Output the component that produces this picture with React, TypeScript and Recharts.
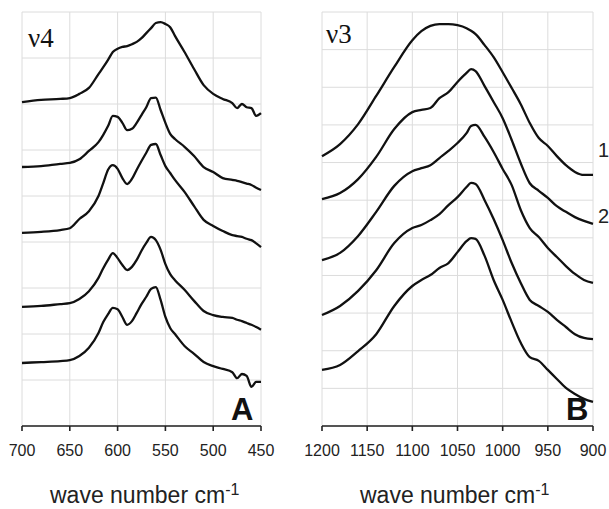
import { LineChart, Line, XAxis, YAxis, CartesianGrid } from "recharts";

// panel A (v4 region)
const wnA = [
  700, 680, 660, 650, 640, 630, 620, 615, 610, 605, 600, 595, 590, 585, 580,
  575, 570, 565, 560, 555, 550, 545, 540, 530, 520, 510, 500, 490, 480, 475,
  470, 465, 460, 455, 450,
];
const a1 = [
  7.04, 7.09, 7.11, 7.13, 7.22, 7.35, 7.65, 7.8, 7.96, 8.13, 8.2, 8.24, 8.26,
  8.3, 8.35, 8.43, 8.54, 8.65, 8.76, 8.78, 8.74, 8.67, 8.48, 8.13, 7.76, 7.41,
  7.22, 7.11, 7.02, 6.91, 7.0, 6.93, 6.91, 6.74, 6.8,
];
const a2 = [
  5.63, 5.65, 5.7, 5.72, 5.8, 5.98, 6.17, 6.33, 6.52, 6.74, 6.72, 6.59, 6.43,
  6.46, 6.59, 6.76, 6.93, 7.13, 7.14, 6.87, 6.59, 6.35, 6.24, 6.07, 5.87, 5.63,
  5.52, 5.39, 5.35, 5.33, 5.3, 5.27, 5.24, 5.18, 5.13,
];
const a3 = [
  4.2, 4.22, 4.26, 4.3, 4.5, 4.67, 5.0, 5.28, 5.57, 5.67, 5.59, 5.39, 5.26,
  5.37, 5.57, 5.76, 5.94, 6.11, 6.13, 5.89, 5.65, 5.5, 5.35, 5.09, 4.78, 4.48,
  4.35, 4.24, 4.15, 4.13, 4.11, 4.07, 4.04, 3.97, 3.89,
];
const a4 = [
  2.59, 2.61, 2.65, 2.67, 2.76, 2.93, 3.22, 3.43, 3.61, 3.76, 3.65, 3.5, 3.39,
  3.46, 3.61, 3.81, 3.98, 4.11, 4.04, 3.83, 3.52, 3.3, 3.17, 2.96, 2.72, 2.5,
  2.41, 2.37, 2.35, 2.31, 2.28, 2.24, 2.2, 2.15, 2.09,
];
const a5 = [
  1.37, 1.39, 1.41, 1.43, 1.52, 1.7, 2.02, 2.26, 2.43, 2.57, 2.54, 2.37, 2.2,
  2.28, 2.46, 2.65, 2.81, 2.98, 3.02, 2.74, 2.37, 2.13, 2.0, 1.74, 1.57, 1.39,
  1.3, 1.24, 1.17, 1.04, 1.13, 1.09, 0.85, 0.96, 0.96,
];

// panel B (v3 region)
const wnB = [
  1200, 1180, 1160, 1140, 1120, 1100, 1090, 1080, 1070, 1060, 1050, 1040, 1035,
  1030, 1020, 1010, 1000, 990, 980, 970, 960, 950, 940, 930, 920, 910, 900,
];
const b1 = [
  7.17, 7.49, 8.02, 8.77, 9.54, 10.25, 10.49, 10.63, 10.68, 10.68, 10.65, 10.57,
  10.5, 10.41, 10.12, 9.8, 9.4, 8.98, 8.55, 8.05, 7.65, 7.44, 7.17, 6.93, 6.75,
  6.67, 6.67,
];
const b2 = [
  6.03, 6.19, 6.56, 7.15, 7.89, 8.34, 8.4, 8.45, 8.71, 8.87, 9.14, 9.38, 9.48,
  9.43, 9.03, 8.61, 8.18, 7.6, 6.98, 6.45, 6.25, 6.06, 5.84, 5.69, 5.55, 5.45,
  5.37,
];
const b3 = [
  4.41, 4.6, 5.05, 5.69, 6.38, 6.77, 6.85, 6.93, 7.12, 7.31, 7.52, 7.78, 7.97,
  8.0, 7.68, 7.28, 6.83, 6.4, 5.74, 5.26, 5.02, 4.73, 4.49, 4.25, 4.04, 3.88,
  3.8,
];
const b4 = [
  2.95, 3.19, 3.59, 4.14, 4.86, 5.26, 5.34, 5.47, 5.63, 5.87, 6.08, 6.35, 6.46,
  6.43, 6.0, 5.5, 4.94, 4.33, 3.8, 3.35, 3.19, 3.03, 2.82, 2.63, 2.44, 2.34,
  2.31,
];
const b5 = [
  1.49, 1.62, 1.99, 2.44, 3.19, 3.72, 3.88, 4.01, 4.2, 4.33, 4.62, 4.91, 4.99,
  4.97, 4.52, 3.88, 3.35, 2.76, 2.21, 1.83, 1.73, 1.49, 1.25, 1.01, 0.85, 0.72,
  0.64,
];

const ticksA = [700, 650, 600, 550, 500, 450];
const ticksB = [1200, 1150, 1100, 1050, 1000, 950, 900];
const gridA = [0, 1, 2, 3, 4, 5, 6, 7, 8, 9];
const gridB = [0, 1, 2, 3, 4, 5, 6, 7, 8, 9, 10, 11];

const dataA = wnA.map((x, i) => ({ x, s1: a1[i], s2: a2[i], s3: a3[i], s4: a4[i], s5: a5[i] }));
const dataB = wnB.map((x, i) => ({ x, s1: b1[i], s2: b2[i], s3: b3[i], s4: b4[i], s5: b5[i] }));

const keys = ["s1", "s2", "s3", "s4", "s5"];
const font = "'Liberation Sans', Arial, sans-serif";

function Panel({ data, ticks, grid, domain, width, right }: any) {
  return (
    <LineChart
      width={width}
      height={470}
      data={data}
      margin={{ top: 12, right, bottom: 0, left: 22 }}
    >
      <CartesianGrid stroke="#dcdcdc" strokeWidth={1} />
      <XAxis
        dataKey="x"
        type="number"
        domain={domain}
        reversed
        ticks={ticks}
        interval={0}
        height={44}
        stroke="#222"
        strokeWidth={1.6}
        tickSize={5}
        tickMargin={14}
        tick={{ fill: "#222", fontSize: 16, fontFamily: font }}
      />
      <YAxis hide type="number" domain={[0, grid[grid.length - 1]]} ticks={grid} />
      {keys.map((k) => (
        <Line
          key={k}
          dataKey={k}
          type="monotone"
          stroke="#111"
          strokeWidth={2.3}
          dot={false}
          isAnimationActive={false}
        />
      ))}
    </LineChart>
  );
}

export default function App() {
  return (
    <div style={{ position: "absolute", left: 0, top: 0, width: 609, height: 509, background: "#fff" }}>
      <div style={{ position: "absolute", left: 0, top: 0 }}>
        <Panel data={dataA} ticks={ticksA} grid={gridA} domain={[450, 700]} width={280} right={19} />
      </div>
      <div style={{ position: "absolute", left: 300, top: 0 }}>
        <Panel data={dataB} ticks={ticksB} grid={gridB} domain={[900, 1200]} width={309} right={16} />
      </div>
      <svg
        width={609}
        height={509}
        style={{ position: "absolute", left: 0, top: 0, pointerEvents: "none" }}
      >
        <text x={28} y={47} fontFamily="'Liberation Serif', serif" fontSize={27} fill="#111">ν4</text>
        <text x={326} y={43} fontFamily="'Liberation Serif', serif" fontSize={27} fill="#111">ν3</text>
        <text x={231} y={420} fontFamily={font} fontWeight="bold" fontSize={31} fill="#111">A</text>
        <text x={566} y={420} fontFamily={font} fontWeight="bold" fontSize={31} fill="#111">B</text>
        <text x={598} y={157} fontFamily={font} fontSize={20} fill="#222">1</text>
        <text x={598} y={223} fontFamily={font} fontSize={20} fill="#222">2</text>
        <text x={50} y={503} fontFamily={font} fontSize={23} fill="#222">
          wave number cm<tspan dy={-8} fontSize={16}>-1</tspan>
        </text>
        <text x={360} y={503} fontFamily={font} fontSize={23} fill="#222">
          wave number cm<tspan dy={-8} fontSize={16}>-1</tspan>
        </text>
      </svg>
    </div>
  );
}
